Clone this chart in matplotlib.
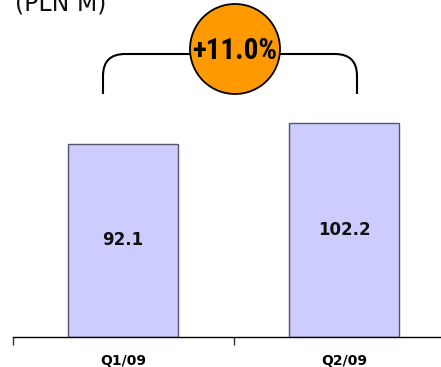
import matplotlib
matplotlib.use("Agg")
import matplotlib.pyplot as plt
from matplotlib.patches import Circle, PathPatch
from matplotlib.path import Path

categories = ["Q1/09", "Q2/09"]
values = [92.1, 102.2]
growth_label = "+11.0%"
unit_label = "(PLN M)"

W, H = 441, 367
fig = plt.figure(figsize=(W / 100, H / 100), dpi=100)

# Bar axes: baseline 337 px from the top, spanning x 13..441 px
ax_left, ax_right = 13, 441
base_y = 337
ax = fig.add_axes([ax_left / W, (H - base_y) / H, (ax_right - ax_left) / W, base_y / H])

spacing = 221.0
ax.set_xlim(-110 / spacing, 1 + 97 / spacing)
px_per_unit = 2.096
ax.set_ylim(0, base_y / px_per_unit)

xs = list(range(len(categories)))
ax.bar(xs, values, width=110 / spacing, color="#CCCCFF",
       edgecolor="#555566", linewidth=1.0, zorder=2)
for x, v in zip(xs, values):
    ax.text(x, v / 2, f"{v:.1f}", ha="center", va="center",
            fontsize=12, fontweight="bold", color="#111111")

for s in ("top", "right", "left"):
    ax.spines[s].set_visible(False)
ax.spines["bottom"].set_color("#000000")
ax.spines["bottom"].set_linewidth(1.0)
ax.set_yticks([])
ax.set_xticks([ax.get_xlim()[0], 0.5])
ax.set_xticklabels(["", ""])
ax.tick_params(axis="x", which="major", length=6, width=1.0, color="#333333")
ax.set_xticks(xs, minor=True)
ax.set_xticklabels(categories, minor=True, fontsize=10, fontweight="bold")
ax.tick_params(axis="x", which="minor", length=0, pad=12)

# Overlay in pixel coordinates for the bracket and growth badge
ov = fig.add_axes([0, 0, 1, 1])
ov.set_xlim(0, W)
ov.set_ylim(H, 0)
ov.axis("off")
ov.patch.set_alpha(0)

xl, xr, yt, yb, r = 103, 357, 54, 94, 22
verts = [(xl, yb), (xl, yt + r), (xl, yt), (xl + r, yt),
         (xr - r, yt), (xr, yt), (xr, yt + r), (xr, yb)]
codes = [Path.MOVETO, Path.LINETO, Path.CURVE3, Path.CURVE3,
         Path.LINETO, Path.CURVE3, Path.CURVE3, Path.LINETO]
ov.add_patch(PathPatch(Path(verts, codes), fill=False, edgecolor="black", linewidth=1.5))

ov.add_patch(Circle((235, 49), 45, facecolor="#FF9900", edgecolor="black", linewidth=1.3, zorder=3))
ov.text(235, 51, growth_label, ha="center", va="center", fontsize=21,
        fontweight="bold", family=["Roboto Condensed", "DejaVu Sans"], zorder=4)

ov.text(15, 10, unit_label, ha="left", va="baseline", fontsize=17, color="#111111")

fig.savefig("out.png", dpi=100)
